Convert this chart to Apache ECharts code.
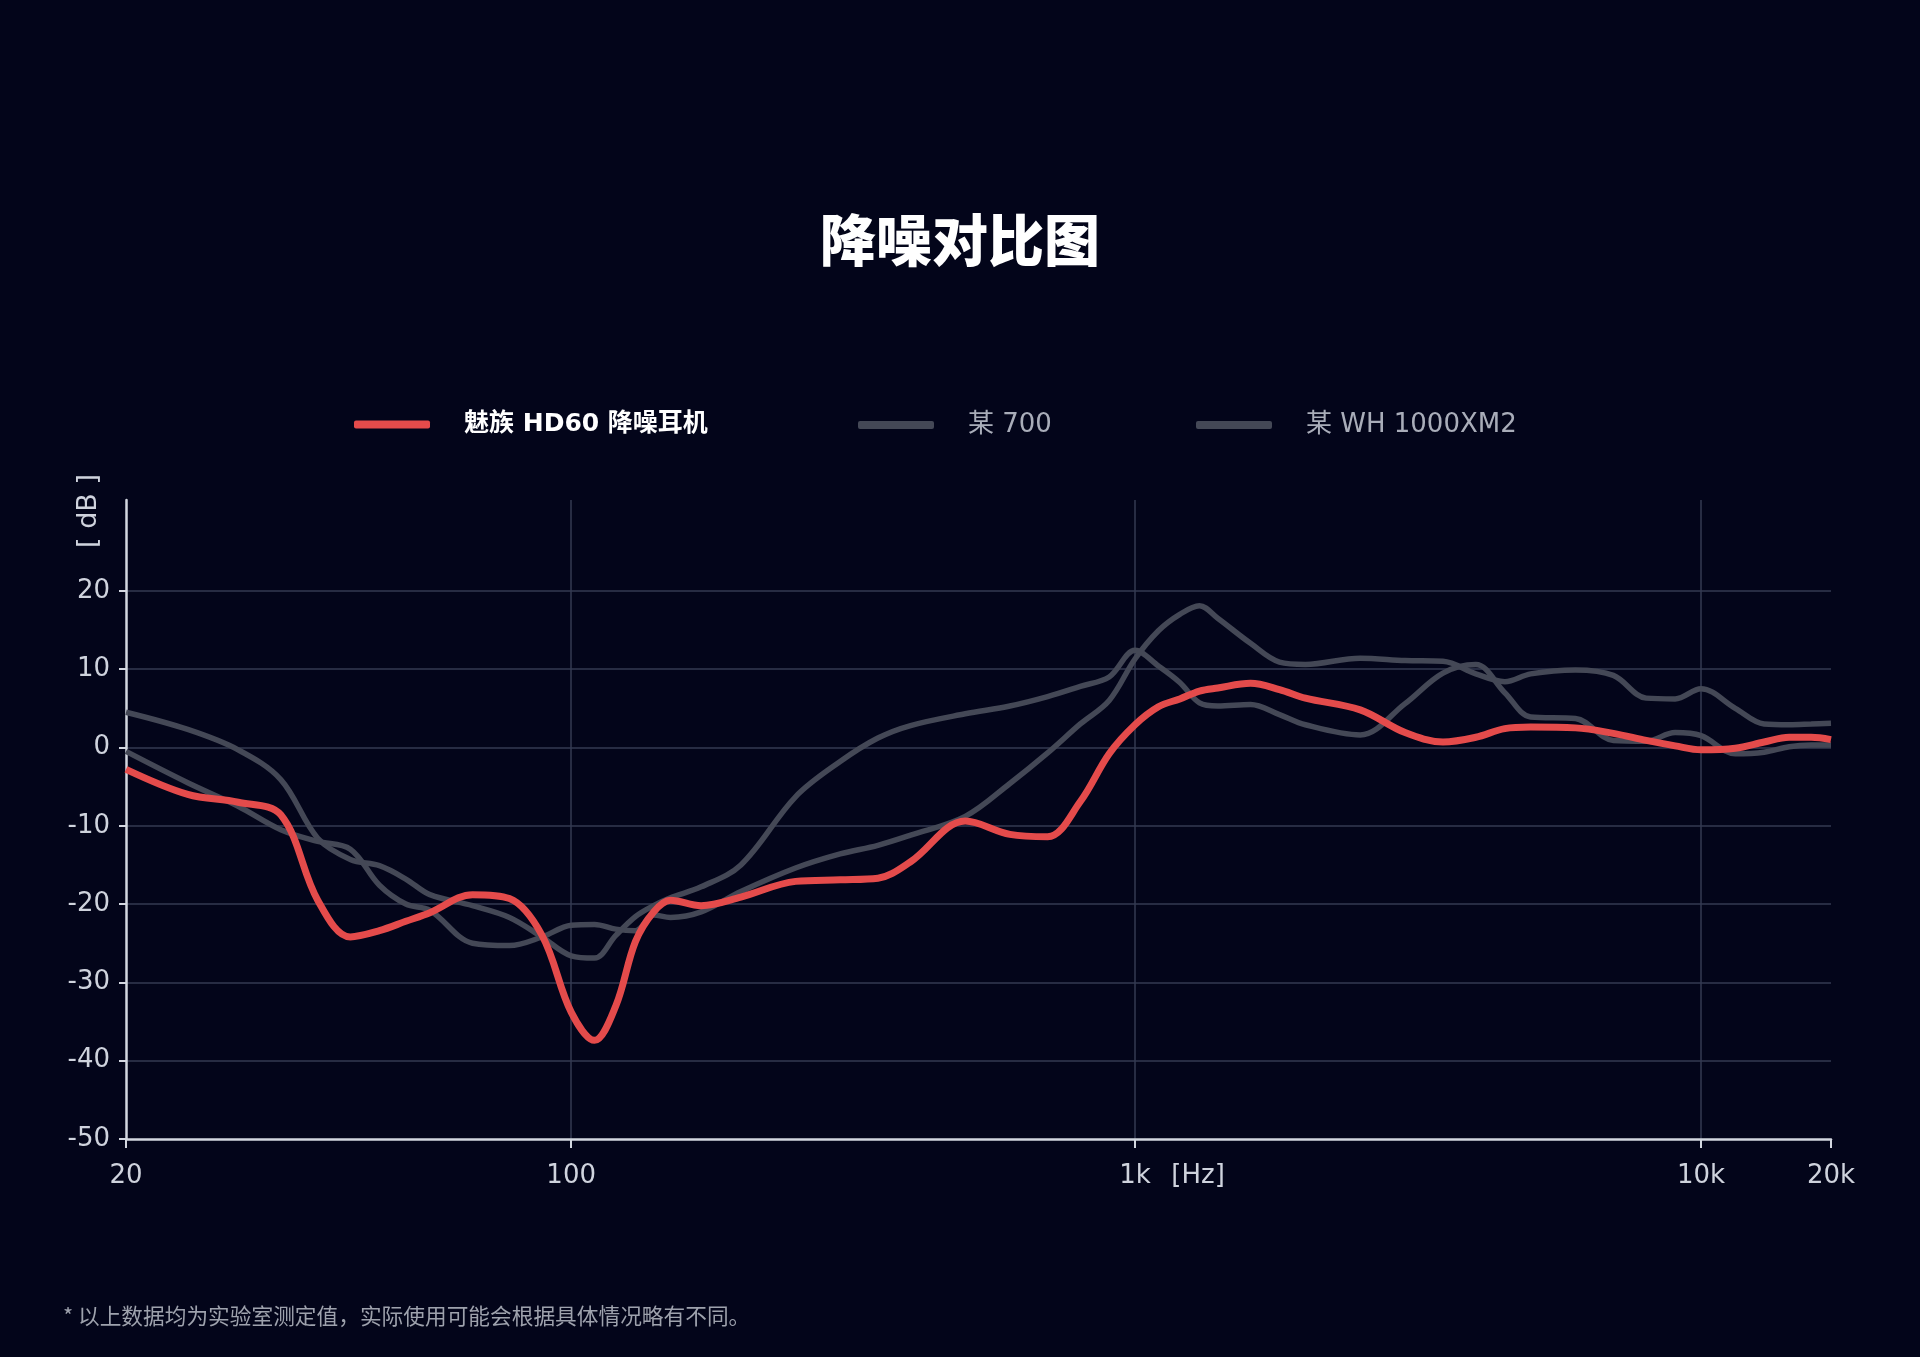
<!DOCTYPE html>
<html>
<head>
<meta charset="utf-8">
<script src="https://cdn.jsdelivr.net/npm/echarts@6/dist/echarts.min.js"></script>
<style>
html,body{margin:0;padding:0;background:#03051a;}
#chart{width:1920px;height:1357px;}
</style>
</head>
<body>
<div id="chart"></div>
<script>
// ---- data (frequency in Hz, level in dB) ----
const freqs = [20,25,30,35,40,45,50,55,60,70,80,90,
  100,110,120,130,140,150,170,200,250,300,350,400,500,600,700,800,900,
  1000,1100,1200,1300,1400,1600,1800,2000,2500,3000,3500,4000,4500,5000,6000,7000,8000,9000,
  10000,12000,14000,16000,18000,20000];
const meizuHD60 = [-2.8,-6.0,-7.0,-8.6,-19.5,-24.2,-23.4,-22.2,-21.1,-18.8,-19.3,-24.0,
  -33.8,-37.4,-33.0,-24.8,-21.0,-19.5,-20.2,-19.1,-17.1,-16.9,-16.7,-14.6,-9.4,-11.1,-11.4,-6.9,-0.8,
  2.9,5.2,6.2,7.2,7.6,8.2,7.4,6.3,4.8,1.9,0.7,1.3,2.4,2.6,2.5,1.8,0.9,0.2,
  -0.3,-0.1,0.7,1.3,1.3,1.0];
const model700 = [4.5,2.3,-0.3,-4.1,-11.6,-14.3,-15.1,-16.8,-18.8,-20.2,-21.7,-24.2,
  -26.6,-26.9,-24.0,-21.6,-20.2,-19.2,-17.8,-15.0,-6.3,-1.8,1.2,2.8,4.3,5.3,6.5,7.8,9.0,
  12.4,10.4,8.3,5.7,5.3,5.5,4.2,2.9,1.6,5.6,9.5,10.6,7.0,3.9,3.7,0.9,0.8,1.9,
  1.5,-0.8,-0.6,0.1,0.3,0.3];
const modelWH1000XM2 = [-0.5,-4.5,-7.5,-10.5,-12.0,-13.0,-17.6,-20.0,-20.8,-25.0,-25.3,-24.2,
  -22.7,-22.6,-23.2,-23.4,-21.4,-21.7,-21.0,-18.4,-15.4,-13.6,-12.5,-11.2,-8.8,-4.6,-0.7,3.0,6.0,
  11.3,14.9,17.0,18.1,16.5,13.3,10.9,10.6,11.4,11.1,11.0,9.4,8.4,9.4,9.9,9.2,6.3,6.2,
  7.5,5.0,3.0,2.9,3.0,3.1];
const seriesNames = ['魅族 HD60 降噪耳机','某 700','某 WH 1000XM2'];

// x axis scale: piecewise logarithmic (decade units), as drawn in the original
const xTickFreqs = [20,100,1000,10000,20000];
const xTickLabels = ['20','100','1k','10k','20k'];
const xTickPos = [0,0.788,1.786,2.788,3.018];
const yTicks = [-50,-40,-30,-20,-10,0,10,20];

function warp(f){
  for(let i=0;i<xTickFreqs.length-1;i++){
    if(f<=xTickFreqs[i+1] || i===xTickFreqs.length-2){
      const t=Math.log(f/xTickFreqs[i])/Math.log(xTickFreqs[i+1]/xTickFreqs[i]);
      return xTickPos[i]+t*(xTickPos[i+1]-xTickPos[i]);
    }
  }
}
function pairs(vals){ return freqs.map((f,i)=>[warp(f),vals[i]]); }

const LATIN = "'DejaVu Sans','Noto Sans CJK SC',sans-serif";
const CJK = "'Noto Sans CJK SC','Noto Sans',sans-serif";
const MIX = "'DejaVu Sans','Noto Sans CJK SC',sans-serif";
const GRID = '#343a52';
const AXIS = '#d3d7e0';
const LABEL = '#cfd3dd';
const RED = '#e44b4b';
const GREY = '#444856';

const chart = echarts.init(document.getElementById('chart'), null, {renderer:'canvas'});
chart.setOption({
  backgroundColor:'#03051a',
  animation:false,
  title:[
    {text:'降噪对比图', left:'center', top:207,
     textStyle:{color:'#ffffff', fontSize:56, fontWeight:900, fontFamily:CJK}},
    {text:'* 以上数据均为实验室测定值，实际使用可能会根据具体情况略有不同。', left:58, top:1300,
     textStyle:{color:'#9ea2ad', fontSize:21.7, fontWeight:'normal', fontFamily:CJK}}
  ],
  legend:[
    {data:[seriesNames[0]], left:349, top:407, icon:'roundRect', itemWidth:76, itemHeight:8, selectedMode:false,
     textStyle:{color:'#ffffff', fontSize:25, fontWeight:'bold', fontFamily:MIX, padding:[0,0,0,29]}},
    {data:[seriesNames[1]], left:853, top:407, icon:'roundRect', itemWidth:76, itemHeight:8, selectedMode:false,
     textStyle:{color:'#a9adb9', fontSize:26, fontWeight:'normal', fontFamily:MIX, padding:[0,0,0,29]}},
    {data:[seriesNames[2]], left:1191, top:407, icon:'roundRect', itemWidth:76, itemHeight:8, selectedMode:false,
     textStyle:{color:'#a9adb9', fontSize:26, fontWeight:'normal', fontFamily:MIX, padding:[0,0,0,29]}}
  ],
  graphic:[
    {type:'text', left:75, top:474, rotation:Math.PI/2,
     style:{text:'[ dB ]', fill:LABEL, font:"27px 'DejaVu Sans','Noto Sans CJK SC',sans-serif"}}
  ],
  grid:{left:126, right:89, top:500, bottom:218, containLabel:false},
  xAxis:{
    type:'value', min:0, max:xTickPos[xTickPos.length-1],
    axisLine:{show:true, onZero:false, lineStyle:{color:AXIS, width:2.5}},
    axisTick:{show:true, customValues:xTickPos, length:9, lineStyle:{color:AXIS, width:2}},
    axisLabel:{show:true, customValues:xTickPos, margin:24, color:LABEL, fontSize:26, fontFamily:LATIN,
      formatter:function(v){
        let idx=0, best=1e9;
        xTickPos.forEach((p,i)=>{const d=Math.abs(p-v); if(d<best){best=d; idx=i;}});
        const t=xTickLabels[idx];
        if(t==='1k') return '{p|}{a|1k}{h|[Hz]}';
        return '{a|'+t+'}';
      },
      rich:{
        a:{color:LABEL, fontSize:26, fontFamily:LATIN},
        p:{width:74},
        h:{width:74, align:'right', color:LABEL, fontSize:26, fontFamily:LATIN}
      }
    },
    splitLine:{show:true, lineStyle:{color:['rgba(0,0,0,0)',GRID,GRID,GRID,'rgba(0,0,0,0)'], width:1.5}}
  },
  yAxis:{
    type:'value', min:-50, max:31.6,
    axisLine:{show:true, onZero:false, lineStyle:{color:AXIS, width:2.5}},
    axisTick:{show:true, customValues:yTicks, length:7, lineStyle:{color:AXIS, width:2}},
    axisLabel:{show:true, customValues:yTicks, margin:16, color:LABEL, fontSize:26, fontFamily:LATIN},
    splitLine:{show:true, lineStyle:{color:['rgba(0,0,0,0)',GRID,GRID,GRID,GRID,GRID,GRID,GRID], width:1.5}}
  },
  series:[
    {name:seriesNames[1], type:'line', data:pairs(model700), smooth:0.35, showSymbol:false, symbol:'none',
     lineStyle:{color:GREY, width:5.5}, itemStyle:{color:GREY}, z:2},
    {name:seriesNames[2], type:'line', data:pairs(modelWH1000XM2), smooth:0.35, showSymbol:false, symbol:'none',
     lineStyle:{color:GREY, width:5.5}, itemStyle:{color:GREY}, z:2},
    {name:seriesNames[0], type:'line', data:pairs(meizuHD60), smooth:0.35, showSymbol:false, symbol:'none',
     lineStyle:{color:RED, width:7}, itemStyle:{color:RED}, z:3}
  ]
});
</script>
</body>
</html>
